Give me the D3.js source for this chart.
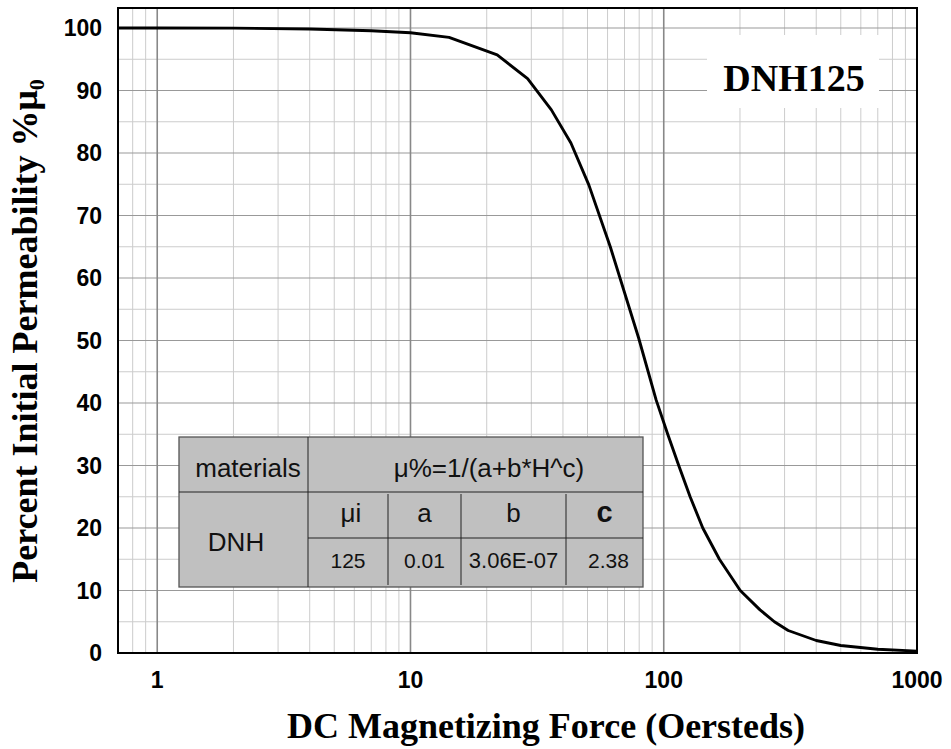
<!DOCTYPE html>
<html>
<head>
<meta charset="utf-8">
<script src="https://cdn.jsdelivr.net/npm/d3@7"></script>
<style>
  body { margin: 0; background: #fff; }
  svg { display: block; }
  .tick-label { font-family: "Liberation Sans", Arial, sans-serif; font-weight: bold; font-size: 23px; fill: #000; }
  .title { font-family: "Liberation Serif", "Times New Roman", serif; font-weight: bold; font-size: 36px; fill: #000; }
  .tbl { font-family: "Liberation Sans", Arial, sans-serif; fill: #111; }
</style>
</head>
<body>
<svg id="chart" width="951" height="749"></svg>
<script>
// curve: H (Oe) vs percent initial permeability
var fieldH   = [0.7, 1, 2, 4, 7, 10, 14.2, 22, 29, 36, 43, 50.6, 61.5, 79.6, 93.3, 103.7, 114.6, 127.1, 142.6, 165.9, 200.5, 240, 273.5, 310, 400, 500, 700, 1000];
var permPct  = [100, 100, 99.98, 99.85, 99.55, 99.25, 98.5, 95.7, 91.9, 86.9, 81.6, 74.9, 65.0, 50.4, 40.5, 35, 30, 25, 20, 15, 10, 6.9, 5.0, 3.6, 2.0, 1.2, 0.6, 0.3];

var xTicks = [1, 10, 100, 1000];
var yTicks = [0, 10, 20, 30, 40, 50, 60, 70, 80, 90, 100];

var materialLabel = "DNH125";
var tableHeader = ["materials", "μ%=1/(a+b*H^c)"];
var materialName = "DNH";
var paramNames = ["μi", "a", "b", "c"];
var paramValues = ["125", "0.01", "3.06E-07", "2.38"];

var svg = d3.select("#chart");
var plotL = 118, plotR = 917, plotT = 8, plotB = 653;

var x = d3.scaleLog().domain([0.7, 1000]).range([plotL, plotR]);
var y = d3.scaleLinear().domain([0, 103.2]).range([plotB, plotT]);

// grid lines
var minorX = [];
[0.1, 1, 10, 100].forEach(function(dec){
  for (var k = 2; k <= 9; k++) {
    var v = dec * k;
    if (v >= 0.7 && v < 1000) minorX.push(v);
  }
});
var majorX = [1, 10, 100];
var minorY = d3.range(5, 101, 10);
var majorY = d3.range(10, 101, 10);

var grid = svg.append("g");
grid.selectAll("line.vminor").data(minorX).enter().append("line")
    .attr("x1", function(d){ return x(d) }).attr("x2", function(d){ return x(d) })
    .attr("y1", plotT).attr("y2", plotB)
    .attr("stroke", "#cccccc").attr("stroke-width", 1);
grid.selectAll("line.hminor").data(minorY).enter().append("line")
    .attr("x1", plotL).attr("x2", plotR)
    .attr("y1", function(d){ return y(d) }).attr("y2", function(d){ return y(d) })
    .attr("stroke", "#cccccc").attr("stroke-width", 1);
grid.selectAll("line.hmajor").data(majorY).enter().append("line")
    .attr("x1", plotL).attr("x2", plotR)
    .attr("y1", function(d){ return y(d) }).attr("y2", function(d){ return y(d) })
    .attr("stroke", "#999999").attr("stroke-width", 1.2);
grid.selectAll("line.vmajor").data(majorX).enter().append("line")
    .attr("x1", function(d){ return x(d) }).attr("x2", function(d){ return x(d) })
    .attr("y1", plotT).attr("y2", plotB)
    .attr("stroke", "#888888").attr("stroke-width", 1.6);

// label box for the material
svg.append("rect")
    .attr("x", 707).attr("y", 35).attr("width", 172).attr("height", 73)
    .attr("fill", "#fff");
svg.append("text")
    .attr("class", "title")
    .attr("x", 794).attr("y", 91)
    .attr("text-anchor", "middle")
    .style("font-size", "38px")
    .text(materialLabel);

// the curve
var pts = fieldH.map(function(h, i){ return [h, permPct[i]] });
svg.append("path")
    .datum(pts)
    .attr("fill", "none")
    .attr("stroke", "#000")
    .attr("stroke-width", 2.9)
    .attr("stroke-linejoin", "round")
    .attr("d", d3.line().x(function(d){ return x(d[0]) }).y(function(d){ return y(d[1]) }));

// parameter table
var colX = [179, 308, 388, 461, 566, 643];
var rowY = [437, 492, 538, 587];
var tbl = svg.append("g");
tbl.append("rect")
    .attr("x", colX[0]).attr("y", rowY[0])
    .attr("width", colX[5] - colX[0]).attr("height", rowY[3] - rowY[0])
    .attr("fill", "#c0c0c0").attr("stroke", "#555").attr("stroke-width", 1.3);
tbl.append("line").attr("x1", colX[1]).attr("x2", colX[1]).attr("y1", rowY[0]).attr("y2", rowY[3])
    .attr("stroke", "#222").attr("stroke-width", 1);
tbl.append("line").attr("x1", colX[0]).attr("x2", colX[5]).attr("y1", rowY[1]).attr("y2", rowY[1])
    .attr("stroke", "#222").attr("stroke-width", 1);
tbl.append("line").attr("x1", colX[1]).attr("x2", colX[5]).attr("y1", rowY[2]).attr("y2", rowY[2])
    .attr("stroke", "#222").attr("stroke-width", 1);
tbl.selectAll("line.col").data(colX.slice(2, 5)).enter().append("line")
    .attr("x1", function(d){ return d }).attr("x2", function(d){ return d })
    .attr("y1", rowY[1] + 2).attr("y2", rowY[3] - 2)
    .attr("stroke", "#222").attr("stroke-width", 1);

tbl.append("text").attr("class", "tbl")
    .attr("x", 248).attr("y", 477).attr("text-anchor", "middle")
    .style("font-size", "26px").text(tableHeader[0]);
tbl.append("text").attr("class", "tbl")
    .attr("x", 489).attr("y", 477).attr("text-anchor", "middle")
    .style("font-size", "26px").text(tableHeader[1]);
tbl.append("text").attr("class", "tbl")
    .attr("x", 236).attr("y", 551).attr("text-anchor", "middle")
    .style("font-size", "26px").text(materialName);
tbl.selectAll("text.pname").data(paramNames).enter().append("text")
    .attr("class", "tbl")
    .attr("x", function(d, i){ return (colX[i + 1] + colX[i + 2]) / 2 + (i == 0 ? 3 : 0) })
    .attr("y", 522).attr("text-anchor", "middle")
    .style("font-size", function(d, i){ return i == 3 ? "29px" : "26px" })
    .style("font-weight", function(d, i){ return i == 3 ? "bold" : "normal" })
    .text(function(d){ return d });
tbl.selectAll("text.pval").data(paramValues).enter().append("text")
    .attr("class", "tbl")
    .attr("x", function(d, i){ return (colX[i + 1] + colX[i + 2]) / 2 + (i == 3 ? 4 : 0) })
    .attr("y", 568).attr("text-anchor", "middle")
    .style("font-size", function(d, i){ return i == 2 ? "22px" : "21px" })
    .text(function(d){ return d });

// frame
svg.append("rect")
    .attr("x", plotL).attr("y", plotT).attr("width", plotR - plotL).attr("height", plotB - plotT)
    .attr("fill", "none").attr("stroke", "#000").attr("stroke-width", 2);

// axes labels
svg.selectAll("text.xt").data(xTicks).enter().append("text")
    .attr("class", "tick-label")
    .attr("x", function(d){ return x(d) }).attr("y", 688)
    .attr("text-anchor", "middle")
    .text(function(d){ return d });
svg.selectAll("text.yt").data(yTicks).enter().append("text")
    .attr("class", "tick-label")
    .attr("x", 102).attr("y", function(d){ return y(d) })
    .attr("dy", "0.36em")
    .attr("text-anchor", "end")
    .text(function(d){ return d });

svg.append("text")
    .attr("class", "title")
    .attr("x", 546).attr("y", 738)
    .attr("text-anchor", "middle")
    .text("DC Magnetizing Force (Oersteds)");

var yt = svg.append("text")
    .attr("class", "title")
    .attr("transform", "translate(37,331) rotate(-90)")
    .attr("text-anchor", "middle");
yt.append("tspan").text("Percent Initial Permeability %μ");
yt.append("tspan").attr("dy", 7).style("font-size", "22px").text("0");
</script>
</body>
</html>
